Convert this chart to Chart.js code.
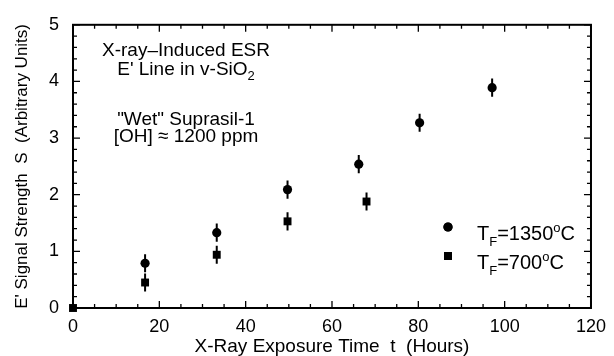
<!DOCTYPE html>
<html>
<head>
<meta charset="utf-8">
<script src="https://cdn.jsdelivr.net/npm/chart.js@4.4.0/dist/chart.umd.min.js"></script>
<style>
  html, body { margin: 0; padding: 0; background: #fff; }
  #wrap { width: 614px; height: 356px; }
</style>
</head>
<body>
<div id="wrap"><canvas id="chart" width="614" height="356"></canvas></div>
<script>
// T_F = 1350 C samples (circles)
const hotX = [16.7, 33.3, 49.7, 66.2, 80.3, 97.1];
const hotY = [0.79, 1.33, 2.09, 2.54, 3.27, 3.89];
const hotErr = [0.16, 0.16, 0.16, 0.16, 0.16, 0.16];
// T_F = 700 C samples (squares)
const coolX = [0, 16.7, 33.3, 49.7, 68.0];
const coolY = [0, 0.45, 0.94, 1.53, 1.88];
const coolErr = [0, 0.16, 0.16, 0.16, 0.16];

const xTicks = [0, 20, 40, 60, 80, 100, 120];
const yTicks = [0, 1, 2, 3, 4, 5];

const FONT = '"Liberation Sans", Arial, Helvetica, sans-serif';
const INK = '#000';

const toPoints = (xs, ys) => xs.map((x, i) => ({ x: x, y: ys[i] }));

// draws text made of runs (normal / sub / superscript)
const drawRuns = (ctx, runs, x, y, align) => {
  let total = 0;
  runs.forEach(r => {
    ctx.font = r.size + 'px ' + FONT;
    r.w = ctx.measureText(r.t).width;
    total += r.w;
  });
  let cx = align === 'center' ? x - total / 2 : x;
  ctx.textAlign = 'left';
  ctx.textBaseline = 'alphabetic';
  runs.forEach(r => {
    ctx.font = r.size + 'px ' + FONT;
    ctx.fillText(r.t, cx, y + (r.dy || 0));
    cx += r.w;
  });
};

const decor = {
  id: 'decor',
  beforeDatasetsDraw(chart) {
    const ctx = chart.ctx;
    const a = chart.chartArea;
    const xs = chart.scales.x, ys = chart.scales.y;
    ctx.save();
    ctx.strokeStyle = INK;
    // frame
    ctx.lineWidth = 2;
    ctx.strokeRect(a.left, a.top, a.right - a.left, a.bottom - a.top);
    // inward ticks
    ctx.lineWidth = 1.3;
    ctx.beginPath();
    for (let v = 0; v <= 120; v += 5) {
      const px = xs.getPixelForValue(v);
      const len = v % 20 === 0 ? 7 : 4;
      ctx.moveTo(px, a.bottom); ctx.lineTo(px, a.bottom - len);
      ctx.moveTo(px, a.top); ctx.lineTo(px, a.top + len);
    }
    for (let k = 0; k <= 25; k++) {
      const py = ys.getPixelForValue(k * 0.2);
      const len = k % 5 === 0 ? 7 : 4;
      ctx.moveTo(a.left, py); ctx.lineTo(a.left + len, py);
      ctx.moveTo(a.right, py); ctx.lineTo(a.right - len, py);
    }
    ctx.stroke();
    // error bars
    ctx.lineWidth = 2;
    const errs = [hotErr, coolErr];
    chart.data.datasets.forEach((ds, i) => {
      ctx.beginPath();
      ds.data.forEach((p, j) => {
        const e = errs[i][j];
        if (!e) return;
        const px = xs.getPixelForValue(p.x);
        ctx.moveTo(px, ys.getPixelForValue(p.y - e));
        ctx.lineTo(px, ys.getPixelForValue(p.y + e));
      });
      ctx.stroke();
    });
    ctx.restore();
  },
  afterDraw(chart) {
    const ctx = chart.ctx;
    ctx.save();
    ctx.fillStyle = INK;
    // notes
    const cx = 186;
    drawRuns(ctx, [{ t: 'X-ray\u2013Induced ESR', size: 19 }], cx, 56, 'center');
    drawRuns(ctx, [{ t: "E' Line in v-SiO", size: 19 }, { t: '2', size: 13, dy: 5 }], cx, 75, 'center');
    drawRuns(ctx, [{ t: '"Wet" Suprasil-1', size: 19 }], cx, 125, 'center');
    drawRuns(ctx, [{ t: '[OH] \u2248 1200 ppm', size: 19 }], cx, 142, 'center');
    // legend
    const ds = chart.data.datasets;
    const labels = ['=1350', '=700'];
    const rows = [227, 256];
    ds.forEach((d, i) => {
      Chart.helpers.drawPoint(ctx, {
        pointStyle: d.pointStyle, radius: d.pointRadius, borderWidth: 0, rotation: 0
      }, 448, rows[i]);
      ctx.fillStyle = INK;
      ctx.fill();
      drawRuns(ctx, [
        { t: 'T', size: 20 },
        { t: 'F', size: 13, dy: 6 },
        { t: labels[i], size: 20 },
        { t: 'o', size: 13, dy: -8 },
        { t: 'C', size: 20 }
      ], 477, rows[i] + 13, 'left');
    });
    ctx.restore();
  }
};

new Chart(document.getElementById('chart'), {
  type: 'scatter',
  data: {
    datasets: [
      {
        label: 'TF=1350oC',
        data: toPoints(hotX, hotY),
        pointStyle: 'circle',
        pointRadius: 4.6,
        backgroundColor: INK,
        borderWidth: 0,
        clip: false
      },
      {
        label: 'TF=700oC',
        data: toPoints(coolX, coolY),
        pointStyle: 'rect',
        pointRadius: 5.6,
        backgroundColor: INK,
        borderWidth: 0,
        clip: false
      }
    ]
  },
  options: {
    responsive: false,
    animation: false,
    devicePixelRatio: 1,
    layout: { padding: { left: 0, top: 21, right: 18, bottom: 0 } },
    plugins: { legend: { display: false }, tooltip: { enabled: false } },
    scales: {
      x: {
        type: 'linear',
        min: 0,
        max: 120,
        afterBuildTicks: (s) => { s.ticks = xTicks.map(v => ({ value: v })); },
        afterFit: (s) => { s.height = 48; },
        grid: { display: false, drawTicks: false },
        border: { display: false },
        ticks: { color: INK, padding: 8, font: { family: FONT, size: 18 } },
        title: {
          display: true,
          text: 'X-Ray Exposure Time  t  (Hours)',
          color: INK,
          padding: { top: 0, bottom: 0 },
          font: { family: FONT, size: 19, lineHeight: 1 }
        }
      },
      y: {
        type: 'linear',
        min: 0,
        max: 5,
        afterBuildTicks: (s) => { s.ticks = yTicks.map(v => ({ value: v })); },
        afterFit: (s) => { s.width = 73; },
        grid: { display: false, drawTicks: false },
        border: { display: false },
        ticks: { color: INK, padding: 14, font: { family: FONT, size: 18 } },
        title: {
          display: true,
          text: "E' Signal Strength  S  (Arbitrary Units)",
          color: INK,
          padding: { top: 14, bottom: 0 },
          font: { family: FONT, size: 17, lineHeight: 1 }
        }
      }
    }
  },
  plugins: [decor]
});
</script>
</body>
</html>
